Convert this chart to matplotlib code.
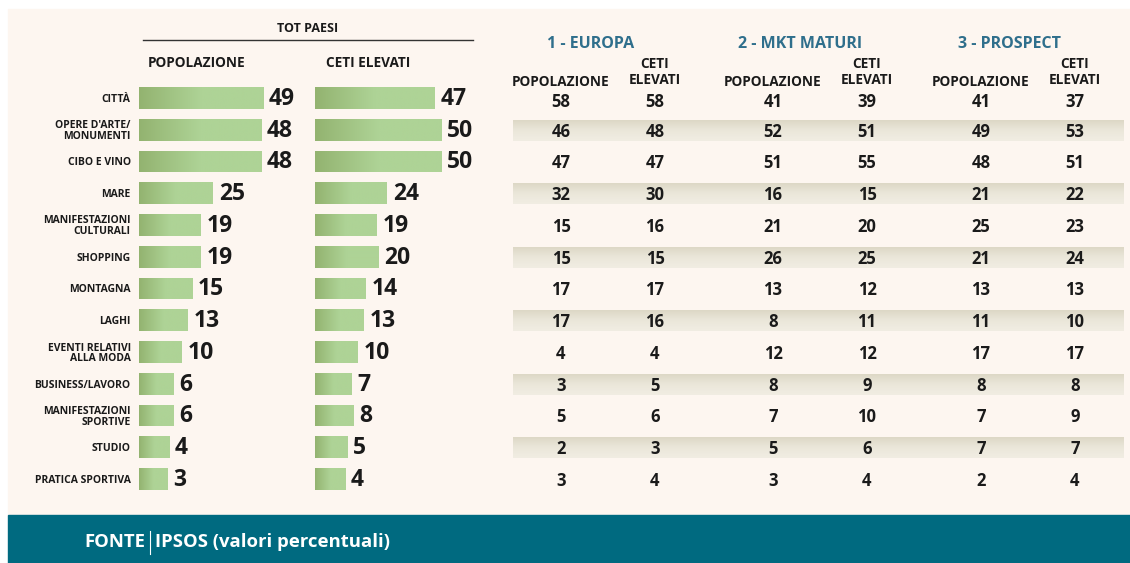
import numpy as np
import matplotlib.pyplot as plt
from matplotlib.colors import LinearSegmentedColormap

# dati (valori percentuali)
categorie = ['CITTÀ', "OPERE D'ARTE/\nMONUMENTI", 'CIBO E VINO', 'MARE',
             'MANIFESTAZIONI\nCULTURALI', 'SHOPPING', 'MONTAGNA', 'LAGHI',
             'EVENTI RELATIVI\nALLA MODA', 'BUSINESS/LAVORO',
             'MANIFESTAZIONI\nSPORTIVE', 'STUDIO', 'PRATICA SPORTIVA']
tot_pop = [49, 48, 48, 25, 19, 19, 15, 13, 10, 6, 6, 4, 3]
tot_ceti = [47, 50, 50, 24, 19, 20, 14, 13, 10, 7, 8, 5, 4]
europa_pop = [58, 46, 47, 32, 15, 15, 17, 17, 4, 3, 5, 2, 3]
europa_ceti = [58, 48, 47, 30, 16, 15, 17, 16, 4, 5, 6, 3, 4]
maturi_pop = [41, 52, 51, 16, 21, 26, 13, 8, 12, 8, 7, 5, 3]
maturi_ceti = [39, 51, 55, 15, 20, 25, 12, 11, 12, 9, 10, 6, 4]
prospect_pop = [41, 49, 48, 21, 25, 21, 13, 11, 17, 8, 7, 7, 2]
prospect_ceti = [37, 53, 51, 22, 23, 24, 13, 10, 17, 8, 9, 7, 4]
gruppi = ['1 - EUROPA', '2 - MKT MATURI', '3 - PROSPECT']

plt.rcParams['font.family'] = ['Open Sans', 'DejaVu Sans']

W, H = 1130, 563
CREMA = '#fdf6f0'
TEAL = '#006a80'
BLU = '#2f6f8c'
NERO = '#1a1a1a'

fig = plt.figure(figsize=(W / 100, H / 100), dpi=100)


def px_axes(x0, y0, x1, y1):
    # crea un asse posizionato in pixel (origine in alto a sinistra)
    return fig.add_axes([x0 / W, 1 - y1 / H, (x1 - x0) / W, (y1 - y0) / H])


# sfondo e fascia della fonte
bg = px_axes(0, 0, W, H)
bg.set_xlim(0, W)
bg.set_ylim(H, 0)
bg.axis('off')
bg.add_patch(plt.Rectangle((8, 9), W - 8, 506, color=CREMA, zorder=0))
bg.add_patch(plt.Rectangle((8, 515), W - 8, 48, color=TEAL, zorder=0))
t1 = bg.text(84, 542, 'FONTE', color='white', fontsize=13.3, fontweight='bold', va='center')
fig.canvas.draw()
x_fine = bg.transData.inverted().transform(t1.get_window_extent().p1)[0]
bg.plot([x_fine + 5, x_fine + 5], [531, 554], color='white', lw=0.8)
bg.text(x_fine + 10, 542, 'IPSOS (valori percentuali)', color='white', fontsize=13.3,
        fontweight='bold', va='center')

# intestazioni TOT PAESI
bg.text(308, 29, 'TOT PAESI', ha='center', va='center', fontsize=9, fontweight='bold', color=NERO)
bg.plot([143, 473], [40, 40], color='#333333', lw=1)
bg.text(148, 63, 'POPOLAZIONE', ha='left', va='center', fontsize=9.8, fontweight='bold', color=NERO)
bg.text(326, 63, 'CETI ELEVATI', ha='left', va='center', fontsize=9.8, fontweight='bold', color=NERO)

# barre con sfumatura
verde = LinearSegmentedColormap.from_list('verde', ['#93b370', '#aed396', '#aed396'])
grad = np.linspace(0, 1, 256).reshape(1, -1)
OFF = 10.4      # le barre partono leggermente a sinistra dello zero
SCALA = 2.09    # pixel per punto percentuale
n = len(categorie)
y = np.arange(n)

for x0, valori, etichette in [(139, tot_pop, True), (315, tot_ceti, False)]:
    ax = px_axes(x0, 82.1, x0 + 171, 494.9)
    bars = ax.barh(y, np.array(valori) + OFF, left=-OFF, height=0.69, color='#aed396')
    for b, v in zip(bars, valori):
        im = ax.imshow(grad, cmap=verde, aspect='auto',
                       extent=(-OFF, v, b.get_y() + b.get_height(), b.get_y()), zorder=2)
        im.set_clip_path(b)
        ax.text(v + 2.8, b.get_y() + b.get_height() / 2 + 0.03, str(v), va='center', ha='left',
                fontsize=16.5, fontweight='bold', color=NERO)
    ax.set_xlim(-OFF, -OFF + 171 / SCALA)
    ax.set_ylim(n - 0.5, -0.5)
    for s in ax.spines.values():
        s.set_visible(False)
    ax.set_xticks([])
    ax.patch.set_alpha(0)
    if etichette:
        ax.set_yticks(y, categorie, fontsize=7.5, fontweight='bold', color=NERO)
        ax.tick_params(axis='y', length=0, pad=6)
        for lbl in ax.get_yticklabels():
            lbl.set_multialignment('right')
            lbl.set_linespacing(0.95)
    else:
        ax.set_yticks([])

# tabella per gruppi di paesi
tab = px_axes(500, 82.1, W, 494.9)
tab.axis('off')
colonne_x = [561, 655, 773, 867, 981, 1075]
colonne = [europa_pop, europa_ceti, maturi_pop, maturi_ceti, prospect_pop, prospect_ceti]
striscia = LinearSegmentedColormap.from_list('striscia', ['#ddd8c6', '#ebe7da', '#f1ede3'])
vgrad = np.linspace(0, 1, 64).reshape(-1, 1)
for i in range(1, n, 2):
    tab.imshow(vgrad, cmap=striscia, aspect='auto',
               extent=(513, 1124, i + 0.34, i - 0.30), zorder=0)
for cx, valori in zip(colonne_x, colonne):
    for i, v in enumerate(valori):
        tab.text(cx, i + 0.06 if i else i + 0.12, str(v), ha='center', va='center',
                 fontsize=12, fontweight='bold', color=NERO)
tab.set_xlim(500, W)
tab.set_ylim(n - 0.5, -0.5)

for g, cx in zip(gruppi, [591, 800, 1010]):
    bg.text(cx, 44, g, ha='center', va='center', fontsize=11.5, fontweight='bold', color=BLU)
for k in range(3):
    bg.text(colonne_x[2 * k], 82, 'POPOLAZIONE', ha='center', va='center',
            fontsize=9.8, fontweight='bold', color=NERO)
    bg.text(colonne_x[2 * k + 1], 72, 'CETI\nELEVATI', ha='center', va='center',
            fontsize=9.8, fontweight='bold', color=NERO, linespacing=1.2)

fig.savefig('out.png', dpi=100, facecolor='white')
